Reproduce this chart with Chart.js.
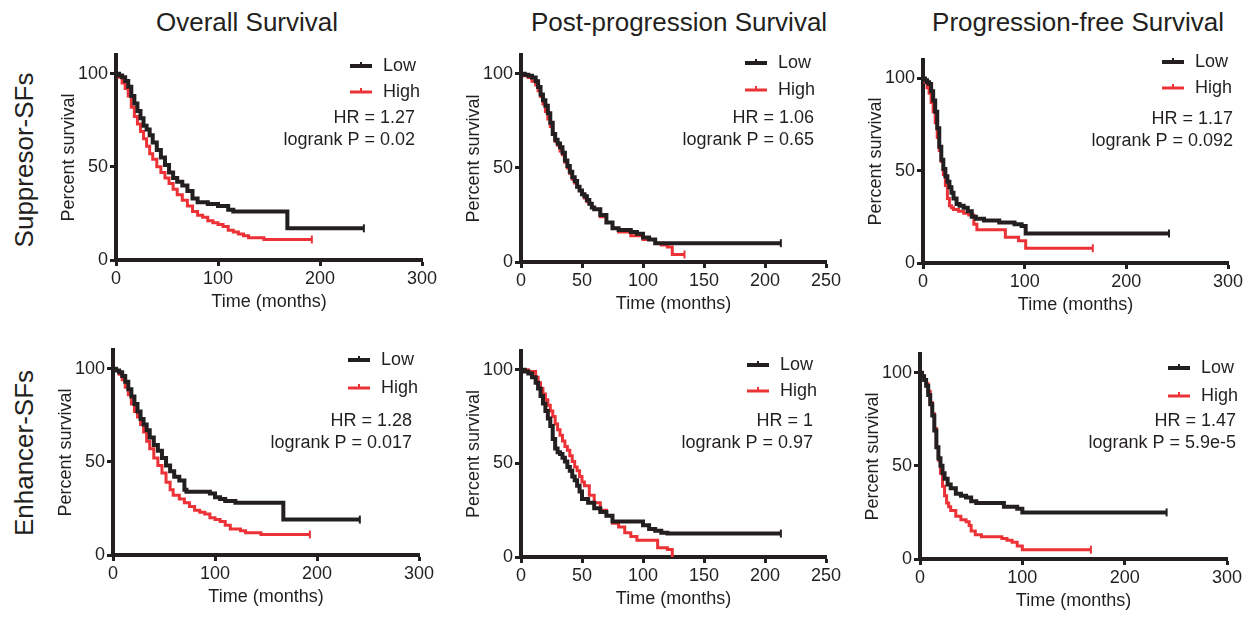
<!DOCTYPE html>
<html>
<head>
<meta charset="utf-8">
<script src="https://cdn.jsdelivr.net/npm/chart.js@4.4.1/dist/chart.umd.min.js"></script>
<style>
  body { margin: 0; background: #fff; width: 1258px; height: 619px; overflow: hidden; position: relative;
         font-family: "Liberation Sans", Arial, sans-serif; color: #231f20; }
  canvas { position: absolute; }
  .col-title { position: absolute; font-size: 26px; transform: translate(-50%, -50%); white-space: nowrap; }
  .row-title { position: absolute; font-size: 26px; transform: translate(-50%, -50%) rotate(-90deg); white-space: nowrap; }
</style>
</head>
<body>
<div class="col-title" style="left:247px;top:22px">Overall Survival</div>
<div class="col-title" style="left:679px;top:22px">Post-progression Survival</div>
<div class="col-title" style="left:1078px;top:22px">Progression-free Survival</div>
<div class="row-title" style="left:24px;top:160px">Suppresor-SFs</div>
<div class="row-title" style="left:24px;top:453px">Enhancer-SFs</div>

<script>
// tick labels
const yTicks = [0, 50, 100];
const xTicks300 = [0, 100, 200, 300];
const xTicks250 = [0, 50, 100, 150, 200, 250];

// Overall survival, suppressor SFs
const osSupLowT = [0,3,6,9,12,15,18,21,24,27,30,33,36,40,44,48,52,56,60,65,70,75,80,90,100,110,115,168,243];
const osSupLowS = [100,99,98,96,93,88,84,80,76,72,70,67,63,59,55,51,47,44,42,40,37,33,31,30,29,27,26,17,17];
const osSupHighT = [0,3,6,9,12,15,18,21,24,27,30,33,36,40,44,48,52,56,60,65,70,75,80,85,90,95,100,105,110,115,120,125,130,145,192];
const osSupHighS = [100,98,95,92,88,82,77,73,69,65,61,57,54,50,47,44,41,38,35,32,29,26,24,23,21,20,19,18,16,15,14,13,12,11,11];

// Post-progression survival, suppressor SFs
const ppsSupLowT = [0,3,6,9,12,14,16,18,20,22,24,26,28,30,32,34,36,38,40,42,44,46,48,50,52,54,56,58,60,65,70,75,80,90,95,100,105,110,213];
const ppsSupLowS = [100,99.5,99,98,96,93,89,86,83,79,74,68,65,63,61,58,54,51,48,45,43,40,38,36,35,33,31,29,28,25,21,18,17,16,15,13,12,10,10];
const ppsSupHighT = [0,3,6,9,12,14,16,18,20,22,24,26,28,30,32,34,36,38,40,42,44,46,48,50,52,54,56,58,60,65,70,75,80,90,100,110,115,120,124,134];
const ppsSupHighS = [100,99,98,96,94,91,88,84,80,76,72,68,64,62,59,57,53,50,47,44,42,40,38,36,34,32,31,29,28,24,21,18,16,14,12,10,9,8,4,4];

// Progression-free survival, suppressor SFs
const pfsSupLowT = [0,2,4,6,8,10,12,14,16,18,20,22,24,26,28,30,33,36,40,44,48,52,60,75,90,97,101,242];
const pfsSupLowS = [100,99,98,97,93,88,82,73,63,56,51,47,44,41,38,35,32,31,30,28,25,24,23,22,21,20,16,16];
const pfsSupHighT = [0,2,4,6,8,10,12,14,16,18,20,22,24,26,28,30,35,40,45,50,53,78,81,90,94,101,167];
const pfsSupHighS = [100,98,95,92,87,82,76,68,61,55,48,42,35,31,30,29,28,27,26,21,18,18,14,14,12,8,8];

// Overall survival, enhancer SFs
const osEnhLowT = [0,3,6,9,12,15,18,21,24,27,30,33,36,40,44,48,52,56,60,65,70,72,95,100,105,110,120,167,242];
const osEnhLowS = [100,99,98,96,93,89,85,81,77,73,70,67,63,59,56,52,48,45,42,40,35,34,33,31,30,29,28,19,19];
const osEnhHighT = [0,3,6,9,12,15,18,21,24,27,30,33,36,40,44,48,52,56,59,65,70,75,80,85,90,95,100,105,110,115,125,130,145,193];
const osEnhHighS = [100,99,97,94,90,86,81,77,74,70,66,61,57,52,48,44,39,35,32,30,28,26,24,23,22,20,19,18,16,14,13,12,11,11];

// Post-progression survival, enhancer SFs
const ppsEnhLowT = [0,3,6,9,12,14,16,18,20,22,24,26,28,30,32,34,36,38,40,42,44,46,48,50,55,60,65,70,75,95,100,105,110,115,120,213];
const ppsEnhLowS = [100,99,98,96,93,90,86,82,78,74,70,63,58,56,55,53,51,48,46,43,41,38,35,31,29,26,24,22,19,19,17,15,14,13,12.5,12.5];
const ppsEnhHighT = [0,3,6,9,12,14,16,18,20,22,24,26,28,30,32,34,36,38,40,42,44,46,48,50,52,56,60,65,70,75,80,85,90,95,108,112,120,124];
const ppsEnhHighS = [100,100,99,99,96,93,90,87,84,81,78,75,71,68,65,62,59,57,54,51,48,46,43,40,38,33,29,25,22,18,16,13,11,9,9,5,4,0];

// Progression-free survival, enhancer SFs
const pfsEnhLowT = [0,2,4,6,8,10,12,14,16,18,20,22,24,27,30,35,40,45,50,55,82,95,100,241];
const pfsEnhLowS = [100,98,96,93,88,83,77,69,60,54,50,46,43,40,38,35,34,33,31,30,28,27,25,25];
const pfsEnhHighT = [0,2,4,6,8,10,12,14,16,18,20,22,24,26,28,30,35,40,45,48,50,54,60,75,80,85,90,95,100,167];
const pfsEnhHighS = [100,98,96,94,90,84,78,70,60,53,46,39,34,30,28,26,23,21,20,18,15,13,12,12,11,10,9,7,5,5];

const hrLabels = ["HR = 1.27", "HR = 1.06", "HR = 1.17", "HR = 1.28", "HR = 1", "HR = 1.47"];
const pLabels = ["logrank P = 0.02", "logrank P = 0.65", "logrank P = 0.092",
                 "logrank P = 0.017", "logrank P = 0.97", "logrank P = 5.9e-5"];

const INK = "#231f20";
const RED = "#ed3237";
const FONT = '"Liberation Sans", Arial, sans-serif';

// plot area of each panel in page pixels, and where the legend / stats sit
const panels = [
  { area: {l:116, t:55, r:422, b:260}, xMax:300, xTicks:xTicks300, low:[osSupLowT, osSupLowS], high:[osSupHighT, osSupHighS],
    notes: {legendX:-72, legendY:[11,37], textX:-7, textY:[63,85]} },
  { area: {l:521, t:55, r:826, b:262}, xMax:250, xTicks:xTicks250, low:[ppsSupLowT, ppsSupLowS], high:[ppsSupHighT, ppsSupHighS],
    notes: {legendX:-81, legendY:[8,35], textX:-12, textY:[63,85]} },
  { area: {l:923, t:60, r:1228, b:263}, xMax:300, xTicks:xTicks300, low:[pfsSupLowT, pfsSupLowS], high:[pfsSupHighT, pfsSupHighS],
    notes: {legendX:-66, legendY:[2,28], textX:5, textY:[59,81]} },
  { area: {l:113, t:350, r:419, b:555}, xMax:300, xTicks:xTicks300, low:[osEnhLowT, osEnhLowS], high:[osEnhHighT, osEnhHighS],
    notes: {legendX:-71, legendY:[10,38], textX:-7, textY:[71,93]} },
  { area: {l:521, t:351, r:826, b:557}, xMax:250, xTicks:xTicks250, low:[ppsEnhLowT, ppsEnhLowS], high:[ppsEnhHighT, ppsEnhHighS],
    notes: {legendX:-79, legendY:[14,40], textX:-13, textY:[70,92]} },
  { area: {l:920, t:354, r:1227, b:559}, xMax:300, xTicks:xTicks300, low:[pfsEnhLowT, pfsEnhLowS], high:[pfsEnhHighT, pfsEnhHighS],
    notes: {legendX:-59, legendY:[14,42], textX:9, textY:[67,89]} }
];

// legend with line swatches + HR / logrank text
const kmNotes = {
  id: "kmNotes",
  afterDraw(chart, args, opts) {
    const { ctx, chartArea } = chart;
    ctx.save();
    ctx.font = "18px " + FONT;
    ctx.textBaseline = "middle";
    chart.data.datasets.forEach((ds, i) => {
      const x0 = chartArea.right + opts.legendX;
      const y = chartArea.top + opts.legendY[i];
      ctx.strokeStyle = ds.borderColor;
      ctx.lineWidth = ds.borderWidth;
      ctx.beginPath();
      ctx.moveTo(x0, y);
      ctx.lineTo(x0 + 22, y);
      ctx.stroke();
      ctx.lineWidth = 2;
      ctx.beginPath();
      ctx.moveTo(x0 + 11, y - 4);
      ctx.lineTo(x0 + 11, y);
      ctx.stroke();
      ctx.fillStyle = INK;
      ctx.textAlign = "left";
      ctx.fillText(ds.label, x0 + 33, y);
    });
    ctx.fillStyle = INK;
    ctx.textAlign = "right";
    opts.lines.forEach((txt, i) => {
      ctx.fillText(txt, chartArea.right + opts.textX, chartArea.top + opts.textY[i]);
    });
    ctx.restore();
  }
};

// Kaplan-Meier: hold the previous value, then drop at the event time
function kmDataset(label, t, s, color, width) {
  return {
    label: label,
    data: t.map((x, i) => ({ x: x, y: s[i] })),
    borderColor: color,
    backgroundColor: color,
    borderWidth: width,
    showLine: true,
    stepped: "before",
    pointStyle: "line",
    rotation: 90,
    pointBorderWidth: 2,
    pointRadius: (c) => (c.dataIndex === t.length - 1 ? 4 : 0),
    pointHoverRadius: 0
  };
}

function axis(min, max, ticks, size, title) {
  const horiz = title === "Time (months)";
  return {
    type: "linear",
    min: min,
    max: max,
    border: { display: true, width: 4, color: INK },
    grid: { display: true, drawOnChartArea: false, drawTicks: true, tickLength: 6, tickWidth: 3, tickColor: INK },
    ticks: { color: INK, font: { family: FONT, size: 18 }, padding: 2, autoSkip: false, maxRotation: 0 },
    afterBuildTicks: (sc) => { sc.ticks = ticks.map((v) => ({ value: v })); },
    afterFit: (sc) => { if (horiz) sc.height = size; else sc.width = size; },
    title: { display: true, text: title, color: INK, font: { family: FONT, size: 18 }, padding: 0 }
  };
}

const PAD = { left: 8, top: 20, right: 30, bottom: 5 };
const Y_W = 58, X_H = 53;

panels.forEach((p, idx) => {
  const a = p.area;
  const cv = document.createElement("canvas");
  const w = PAD.left + Y_W + (a.r - a.l) + PAD.right;
  const h = PAD.top + (a.b - a.t) + X_H + PAD.bottom;
  cv.width = w;
  cv.height = h;
  cv.style.width = w + "px";
  cv.style.height = h + "px";
  cv.style.left = (a.l - PAD.left - Y_W) + "px";
  cv.style.top = (a.t - PAD.top) + "px";
  document.body.appendChild(cv);

  new Chart(cv.getContext("2d"), {
    type: "scatter",
    data: {
      datasets: [
        kmDataset("Low", p.low[0], p.low[1], INK, 4),
        kmDataset("High", p.high[0], p.high[1], RED, 3)
      ]
    },
    options: {
      responsive: false,
      animation: false,
      devicePixelRatio: 1,
      layout: { padding: PAD },
      scales: {
        x: axis(0, p.xMax, p.xTicks, X_H, "Time (months)"),
        y: axis(0, 110, yTicks, Y_W, "Percent survival")
      },
      plugins: {
        legend: { display: false },
        tooltip: { enabled: false },
        kmNotes: Object.assign({ lines: [hrLabels[idx], pLabels[idx]] }, p.notes)
      }
    },
    plugins: [kmNotes]
  });
});
</script>
</body>
</html>
